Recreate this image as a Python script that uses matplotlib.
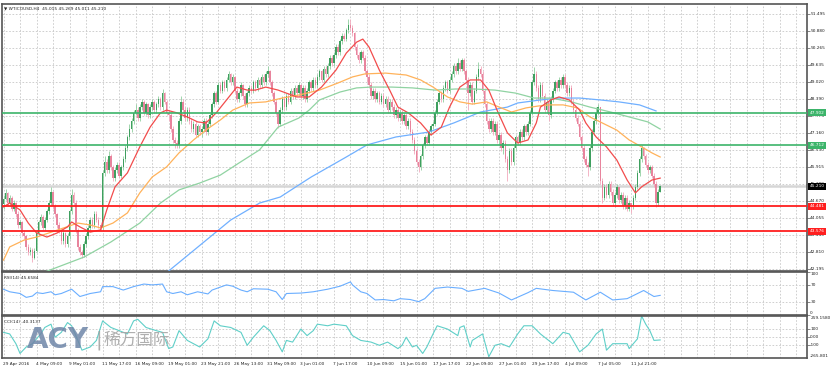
import numpy as np
import matplotlib
matplotlib.use("Agg")
import matplotlib.pyplot as plt
from matplotlib import transforms, font_manager

# ---- data (H4 bars, 29 Apr 2016 -> 13 Jul 2016) ----
first_open = 44.55
closes = [
    44.75, 44.95, 44.6, 44.8, 44.4, 44.6, 44.2, 43.8, 43.9, 43.5, 43.4, 43.0, 42.8, 42.9, 42.6, 42.85,
    43.5, 43.9, 44.1, 43.7, 44.0, 44.3, 44.6, 45.0, 44.5, 44.2, 43.8, 43.6, 43.2, 43.5, 43.1, 43.4,
    44.3, 44.9, 44.6, 43.6, 43.0, 42.8, 42.7, 43.1, 43.4, 43.7, 44.0, 43.8, 44.2, 44.0, 43.8, 43.7,
    45.7, 46.1, 45.8, 46.3, 45.9, 45.5, 45.8, 46.0, 45.6, 45.9, 46.2, 46.6, 47.0, 47.3, 47.6, 47.9,
    48.0, 47.7, 48.1, 48.3, 47.9, 48.2, 47.8, 48.1, 48.3, 48.0, 48.2, 48.4, 48.1, 48.6, 48.3, 47.9,
    47.8, 47.3, 46.9, 46.8, 46.7, 47.6, 48.3, 48.0, 47.7, 48.0, 47.6, 47.3, 47.5, 47.1, 47.4, 47.2,
    47.3, 47.6, 47.2, 47.5, 47.8, 48.2, 48.6, 48.3, 48.9, 48.7, 49.0, 48.8, 49.1, 49.3, 49.0, 49.2,
    48.7, 48.4, 48.6, 48.9, 48.5, 48.2, 48.6, 48.8, 48.7, 49.0, 48.8, 49.1, 48.9, 49.2, 49.0, 49.3,
    49.4, 49.0, 48.6, 48.3, 47.9, 47.5, 48.0, 48.4, 48.1, 48.5, 48.3, 48.7, 48.5, 48.8, 48.6, 48.9,
    48.5, 48.8, 48.4, 48.7, 49.0, 48.8, 49.1, 48.9, 49.2, 49.4, 49.1, 49.5, 49.3, 49.6, 49.9, 49.7,
    50.0, 50.3, 50.1, 50.5, 50.7, 50.6, 50.9, 51.1, 51.0, 50.8, 50.3, 50.0, 49.8, 50.1, 49.9, 49.4,
    49.2, 48.9, 48.5, 48.7, 48.4, 48.6, 48.3, 48.5, 48.2, 48.4, 48.0, 48.3, 48.1, 47.8, 48.0, 47.7,
    47.9, 47.6, 47.8, 47.4, 47.6, 47.2, 46.9, 46.5, 46.1, 45.9, 46.3, 46.7, 47.0, 46.8, 47.2, 47.4,
    47.5, 47.9, 48.3, 48.6, 48.4, 48.8, 49.0, 48.7, 49.1, 49.3, 49.6, 49.4, 49.7, 49.5, 49.8, 49.4,
    49.1, 48.6, 48.9, 48.3, 48.7, 49.2, 49.5, 49.3, 48.7, 48.2, 47.6, 47.3, 47.6, 47.2, 47.5, 46.9,
    47.1, 46.6, 46.8, 46.2, 45.8, 46.5, 46.1, 46.6, 47.0, 46.8, 47.2, 47.0, 47.4, 47.2, 47.5, 47.9,
    49.0, 49.3, 48.8, 48.4, 48.9, 48.5, 48.0, 48.3, 47.8, 48.4, 48.7, 49.0, 48.8, 49.1, 48.9, 49.2,
    48.9, 48.6, 48.8, 48.3, 48.0, 47.7, 47.5, 47.0, 46.6, 46.2, 46.0, 45.9, 46.6, 47.2, 47.6, 47.9,
    48.1, 45.4, 44.8, 45.2, 44.9, 45.3, 45.0, 44.6, 44.9, 45.2, 44.7, 44.9, 44.5, 44.8, 44.4, 44.6,
    44.5, 44.8, 45.2, 45.7, 46.2, 46.6, 46.3, 46.0, 45.8, 45.9, 45.6, 45.3, 44.6, 45.015, 45.21,
]
highs = [
    44.9, 45.1, 45.0, 44.9, 44.85, 44.7, 44.65, 44.3, 44.0, 43.95, 43.6, 43.45, 43.1, 43.0, 42.95, 42.95,
    43.6, 44.0, 44.2, 44.15, 44.1, 44.4, 44.7, 45.2, 45.05, 44.55, 44.25, 43.9, 43.65, 43.6, 43.55, 43.5,
    44.4, 45.1, 45.0, 44.7, 43.7, 43.1, 42.9, 43.2, 43.5, 43.8, 44.1, 44.1, 44.3, 44.3, 44.1, 43.9,
    45.8, 46.3, 46.2, 46.5, 46.4, 46.0, 45.9, 46.1, 46.1, 46.0, 46.3, 46.7, 47.1, 47.5, 47.7, 48.0,
    48.2, 48.1, 48.2, 48.4, 48.35, 48.3, 48.25, 48.2, 48.4, 48.35, 48.3, 48.5, 48.45, 48.75, 48.65, 48.35,
    48.0, 47.9, 47.4, 47.0, 46.9, 47.7, 48.5, 48.4, 48.1, 48.1, 48.1, 47.7, 47.6, 47.6, 47.5, 47.5,
    47.4, 47.7, 47.7, 47.6, 47.9, 48.3, 48.7, 48.7, 49.0, 49.0, 49.1, 49.1, 49.2, 49.4, 49.35, 49.3,
    49.25, 48.8, 48.7, 49.0, 48.95, 48.6, 48.7, 48.9, 48.9, 49.1, 49.1, 49.2, 49.15, 49.3, 49.3, 49.4,
    49.6, 49.45, 49.1, 48.7, 48.4, 48.0, 48.1, 48.5, 48.5, 48.6, 48.6, 48.8, 48.8, 48.9, 48.9, 49.0,
    48.95, 48.9, 48.9, 48.8, 49.1, 49.1, 49.2, 49.2, 49.3, 49.5, 49.45, 49.6, 49.6, 49.7, 50.0, 50.0,
    50.1, 50.4, 50.4, 50.6, 50.8, 50.8, 51.0, 51.3, 51.3, 51.1, 50.85, 50.4, 50.1, 50.2, 50.2, 50.0,
    49.5, 49.3, 49.0, 48.8, 48.8, 48.7, 48.7, 48.6, 48.6, 48.5, 48.5, 48.4, 48.4, 48.2, 48.1, 48.1,
    48.0, 48.0, 47.9, 47.9, 47.7, 47.7, 47.3, 47.0, 46.6, 46.2, 46.4, 46.8, 47.1, 47.1, 47.3, 47.5,
    47.6, 48.0, 48.4, 48.7, 48.7, 48.9, 49.1, 49.1, 49.2, 49.4, 49.7, 49.7, 49.9, 49.8, 49.9, 49.9,
    49.5, 49.2, 49.0, 49.0, 48.8, 49.3, 49.75, 49.6, 49.4, 48.8, 48.3, 47.7, 47.7, 47.7, 47.6, 47.6,
    47.2, 47.2, 46.9, 46.9, 46.3, 46.6, 46.6, 46.7, 47.1, 47.1, 47.3, 47.3, 47.5, 47.5, 47.6, 48.0,
    49.1, 49.55, 49.4, 48.9, 49.0, 49.0, 48.6, 48.4, 48.4, 48.5, 48.8, 49.1, 49.1, 49.2, 49.2, 49.3,
    49.3, 49.0, 48.9, 48.9, 48.4, 48.1, 47.8, 47.6, 47.1, 46.7, 46.3, 46.1, 46.7, 47.3, 47.7, 48.1,
    48.2, 48.1, 45.5, 45.3, 45.3, 45.4, 45.4, 45.1, 45.0, 45.3, 45.2, 45.0, 45.0, 44.9, 44.9, 44.7,
    44.6, 44.9, 45.3, 45.8, 46.3, 46.72, 46.65, 46.4, 46.1, 46.0, 46.0, 45.7, 45.4, 45.1, 45.269,
]
lows = [
    44.4, 44.7, 44.5, 44.5, 44.3, 44.3, 44.1, 43.7, 43.7, 43.4, 43.3, 42.9, 42.7, 42.7, 42.45, 42.55,
    42.8, 43.4, 43.8, 43.6, 43.6, 43.9, 44.2, 44.5, 44.4, 44.1, 43.7, 43.5, 43.1, 43.1, 43.0, 43.0,
    43.3, 44.2, 44.5, 43.5, 42.9, 42.7, 42.6, 42.65, 43.0, 43.3, 43.6, 43.7, 43.7, 43.9, 43.7, 43.6,
    43.6, 45.6, 45.7, 45.7, 45.8, 45.4, 45.4, 45.7, 45.5, 45.5, 45.8, 46.1, 46.5, 46.9, 47.2, 47.5,
    47.8, 47.6, 47.6, 48.0, 47.8, 47.8, 47.7, 47.7, 48.0, 47.9, 47.9, 48.1, 48.0, 48.0, 48.2, 47.8,
    47.6, 47.2, 46.8, 46.6, 46.6, 46.6, 47.5, 47.9, 47.6, 47.6, 47.5, 47.2, 47.2, 47.0, 47.0, 47.1,
    47.0, 47.2, 47.1, 47.1, 47.4, 47.7, 48.1, 48.2, 48.2, 48.6, 48.6, 48.7, 48.7, 49.0, 48.9, 48.9,
    48.6, 48.3, 48.3, 48.5, 48.4, 48.1, 48.1, 48.5, 48.6, 48.6, 48.7, 48.7, 48.8, 48.8, 48.9, 48.9,
    49.2, 48.9, 48.5, 48.2, 47.8, 47.35, 47.4, 47.9, 48.0, 48.0, 48.2, 48.2, 48.4, 48.4, 48.5, 48.5,
    48.4, 48.4, 48.3, 48.3, 48.6, 48.7, 48.7, 48.8, 48.8, 49.1, 49.0, 49.0, 49.2, 49.2, 49.5, 49.6,
    49.6, 49.9, 50.0, 50.0, 50.4, 50.5, 50.5, 50.8, 50.9, 50.7, 50.2, 49.9, 49.7, 49.7, 49.8, 49.3,
    49.0, 48.8, 48.4, 48.4, 48.3, 48.3, 48.2, 48.2, 48.1, 48.1, 47.9, 47.9, 48.0, 47.7, 47.7, 47.6,
    47.6, 47.5, 47.5, 47.3, 47.3, 47.1, 46.8, 46.4, 46.0, 45.75, 45.8, 46.2, 46.6, 46.7, 46.7, 47.1,
    47.3, 47.4, 47.8, 48.2, 48.3, 48.3, 48.7, 48.6, 48.6, 49.0, 49.2, 49.3, 49.3, 49.4, 49.4, 49.3,
    49.0, 48.0, 48.5, 48.2, 48.2, 48.6, 49.1, 49.2, 48.6, 48.1, 47.5, 47.2, 47.2, 47.1, 47.1, 46.8,
    46.7, 46.5, 46.4, 46.1, 45.4, 45.7, 46.0, 46.0, 46.5, 46.7, 46.7, 46.9, 46.9, 47.1, 47.1, 47.4,
    47.8, 48.9, 48.7, 48.3, 48.3, 48.4, 47.9, 47.9, 47.6, 47.7, 48.3, 48.6, 48.7, 48.7, 48.8, 48.8,
    48.8, 48.5, 48.5, 48.2, 47.9, 47.6, 47.4, 46.9, 46.5, 46.1, 45.9, 45.6, 45.8, 46.5, 47.1, 47.5,
    47.8, 45.3, 44.6, 44.7, 44.8, 44.8, 44.9, 44.5, 44.5, 44.8, 44.6, 44.6, 44.4, 44.4, 44.3, 44.3,
    44.25, 44.4, 44.7, 45.1, 45.6, 46.1, 46.2, 45.9, 45.7, 45.7, 45.5, 45.2, 44.45, 44.5, 45.011,
]

# moving averages (bar index, price)
ma_red_idx = [0, 3, 8, 12, 16, 21, 26, 31, 33, 37, 42, 47, 50, 54, 60, 66, 71, 76, 79, 84,
              89, 94, 98, 103, 108, 113, 118, 122, 127, 133, 142, 148, 154, 161, 166, 171, 174, 177, 182, 187,
              191, 196, 202, 207, 212, 216, 221, 226, 231, 235, 239, 244, 249, 254, 258, 260, 265, 269, 274, 279,
              282, 287, 292, 297, 302, 306, 309, 314, 318]
ma_red_val = [44.46, 44.60, 44.35, 43.87, 43.51, 43.36, 43.51, 43.73, 43.91, 43.73, 43.54, 43.62, 44.35, 45.19,
              45.70, 46.65, 47.37, 47.89, 47.99, 47.89, 47.74, 47.56, 47.52, 47.89, 48.36, 48.83, 48.72, 48.72,
              48.83, 48.72, 48.47, 48.47, 48.83, 49.45, 50.07, 50.47, 50.58, 50.29, 49.45, 48.72, 48.10, 47.89,
              47.52, 47.08, 47.37, 48.10, 48.83, 49.09, 49.09, 48.72, 47.99, 47.16, 46.79, 46.90, 47.52, 48.10,
              48.36, 48.47, 48.36, 47.99, 47.52, 47.01, 46.65, 46.17, 45.44, 44.97, 45.19, 45.44, 45.51]
ma_orange_idx = [0, 3, 10, 16, 22, 29, 36, 42, 47, 53, 60, 66, 72, 79, 85, 92, 98, 105, 111, 119,
                 127, 135, 143, 153, 162, 169, 175, 185, 195, 202, 208, 215, 221, 227, 234, 240, 246, 253, 259, 264,
                 271, 278, 284, 290, 297, 303, 309, 314, 318]
ma_orange_val = [42.52, 43.00, 43.25, 43.36, 43.51, 43.69, 43.87, 43.80, 43.69, 43.87, 44.24, 44.97, 45.55,
                 45.92, 46.43, 46.90, 47.26, 47.63, 47.99, 48.25, 48.29, 48.43, 48.54, 48.72, 48.98, 49.20,
                 49.31, 49.34, 49.27, 49.09, 48.83, 48.47, 48.29, 48.21, 48.29, 48.10, 47.92, 48.07, 48.14,
                 48.18, 48.18, 48.07, 47.74, 47.52, 47.26, 46.90, 46.65, 46.43, 46.28]
ma_green_idx = [17, 39, 52, 66, 76, 85, 95, 105, 114, 124, 133, 143, 148, 153, 163, 171, 178, 188, 198, 209,
                219, 228, 238, 248, 257, 265, 275, 284, 294, 303, 312, 318]
ma_green_val = [42.00, 42.63, 43.18, 43.87, 44.60, 45.08, 45.33, 45.62, 46.06, 46.54, 47.37, 47.70, 47.99,
                48.36, 48.65, 48.80, 48.83, 48.83, 48.80, 48.72, 48.76, 48.76, 48.72, 48.61, 48.43, 48.43,
                48.29, 48.10, 47.92, 47.74, 47.56, 47.30]
ma_blue_idx = [78, 94, 110, 124, 134, 143, 149, 166, 176, 190, 206, 218, 231, 244, 249, 260, 269, 279,
               289, 298, 308, 316]
ma_blue_val = [42.00, 42.99, 43.98, 44.60, 44.82, 45.26, 45.55, 46.28, 46.72, 47.01, 47.19, 47.52, 47.92,
               48.10, 48.25, 48.36, 48.43, 48.43, 48.36, 48.29, 48.18, 47.96]

rsi_idx = [0, 3, 8, 11, 14, 16, 19, 23, 25, 28, 33, 37, 42, 47, 48, 53, 58, 63, 68, 72, 77, 79, 82, 86,
           89, 94, 99, 101, 108, 111, 115, 118, 121, 128, 132, 135, 137, 144, 150, 157, 163, 168, 169, 173,
           176, 180, 184, 189, 192, 197, 201, 204, 209, 215, 222, 225, 233, 240, 246, 254, 258, 266, 276,
           282, 289, 295, 302, 310, 315, 318]
rsi_val = [60, 54, 50, 41, 44, 52, 50, 54, 47, 50, 60, 43, 50, 54, 66, 66, 58, 66, 72, 70, 72, 54, 50, 54,
           47, 54, 49, 58, 70, 67, 58, 54, 61, 60, 54, 36, 50, 51, 54, 60, 67, 77, 70, 54,
           50, 35, 36, 33, 38, 36, 31, 38, 62, 65, 62, 55, 62, 51, 35, 52, 62, 57, 53,
           35, 53, 35, 38, 57, 43, 45.66]

cci_idx = [0, 3, 6, 8, 11, 14, 18, 20, 23, 25, 28, 31, 33, 36, 38, 42, 45, 48, 52, 56, 60, 63, 65, 69,
           74, 77, 80, 82, 85, 89, 92, 95, 99, 102, 105, 110, 115, 118, 121, 126, 129, 132, 135, 137,
           140, 144, 147, 150, 152, 157, 160, 166, 169, 173, 178, 182, 186, 191, 193, 195, 198, 200, 203,
           205, 208, 210, 215, 220, 221, 223, 226, 227, 232, 235, 238, 241, 245, 249, 252, 256, 260, 266,
           271, 274, 279, 283, 287, 290, 292, 295, 302, 303, 307, 309, 311, 313, 315, 318]
cci_val = [55, 35, -87, -209, -128, -87, 35, 116, 157, -6, 55, 177, 137, -46, -168, -128, -46, 198, 116, 76,
           35, 198, 218, 116, 76, 55, -148, -128, 76, -46, -87, -128, -26, 198, 137, 116, 55, -107, -6,
           137, 76, -46, -189, -46, -67, 96, 14, 76, 157, 137, 157, 137, 14, -46, -67, -107, -67, -148,
           -107, -6, -128, -107, -209, -128, 35, 137, 96, 14, 116, 137, -128, -46, 35, -250, -107, -87,
           -128, 35, 137, 137, 35, -87, 55, 35, -189, -107, 35, 96, -168, -87, -87, -148, -26, 259, 157,
           76, -46, -40.31]

date_labels = ["29 Apr 2016", "4 May 09:00", "9 May 01:00", "11 May 17:00", "16 May 09:00",
               "19 May 01:00", "23 May 21:00", "26 May 13:00", "31 May 09:00", "3 Jun 01:00",
               "7 Jun 17:00", "10 Jun 09:00", "15 Jun 01:00", "17 Jun 17:00", "22 Jun 09:00",
               "27 Jun 01:00", "29 Jun 17:00", "4 Jul 09:00", "7 Jul 05:00", "11 Jul 21:00"]
price_ticks = [51.495, 50.880, 50.265, 49.635, 49.020, 48.390, 47.775, 47.160, 46.530, 45.915,
               45.300, 44.670, 44.055, 43.440, 42.810, 42.195]
green_levels = [47.902, 46.712]
red_levels = [44.481, 43.576]
last_price = 45.210

# ---- fonts: a narrow face if the box has one ----
installed = {f.name for f in font_manager.fontManager.ttflist}
if "Liberation Sans Narrow" in installed:
    FAM, FS = "Liberation Sans Narrow", 4.4
else:
    FAM, FS = "DejaVu Sans", 3.1
plt.rcParams["font.family"] = [FAM, "DejaVu Sans"]

# ---- layout ----
W, H = 831, 370
fig = plt.figure(figsize=(W / 100, H / 100), dpi=100)
fig.patch.set_facecolor("white")


def px_axes(left, top, right, bottom):
    return fig.add_axes([left / W, 1 - bottom / H, (right - left) / W, (bottom - top) / H])


ax = px_axes(2, 4, 807, 271)
ax_rsi = px_axes(2, 272, 807, 315)
ax_cci = px_axes(2, 316, 807, 358)

xlim = (-0.73, 389.1)
grid_kw = dict(color="#c8c8c8", lw=0.6, ls=(0, (2, 2)), zorder=0)
TXT = "#222222"
for a in (ax, ax_rsi, ax_cci):
    a.set_xlim(*xlim)
    a.set_xticks([])
    for s in a.spines.values():
        s.set_color("#555555")
        s.set_linewidth(1.2)
    for k in range(0, 390, 8):
        a.axvline(k, **grid_kw)
    a.yaxis.tick_right()
    a.tick_params(axis="y", length=2, width=0.5, color="#555555", labelright=False, labelleft=False)

# main price window
ax.set_ylim(42.122, 51.860)
ax.set_yticks(price_ticks)
for p in price_ticks:
    ax.axhline(p, **grid_kw)
ax.axhline(last_price, color="#d6d6d6", lw=1.8, zorder=1)

closes = np.array(closes)
highs = np.array(highs)
lows = np.array(lows)
opens = np.r_[first_open, closes[:-1]]
bx = np.arange(len(closes))
up = closes >= opens
dn = ~up
ax.vlines(bx[up], lows[up], highs[up], color="#8fcf9f", lw=0.6, zorder=2)
ax.vlines(bx[dn], lows[dn], highs[dn], color="#f2aabd", lw=0.6, zorder=2)
ax.bar(bx[up], closes[up] - opens[up], bottom=opens[up], width=0.75, color="#3f9f5f", lw=0, zorder=3)
ax.bar(bx[dn], closes[dn] - opens[dn], bottom=opens[dn], width=0.75, color="#e8849d", lw=0, zorder=3)

ax.plot(ma_blue_idx, ma_blue_val, color="#70b0ff", lw=0.9, zorder=4)
ax.plot(ma_green_idx, ma_green_val, color="#90d3a2", lw=0.9, zorder=4)
ax.plot(ma_orange_idx, ma_orange_val, color="#ffb25a", lw=0.9, zorder=4)
ax.plot(ma_red_idx, ma_red_val, color="#f24c4c", lw=0.9, zorder=5)

for lv in green_levels:
    ax.axhline(lv, color="#3cb46a", lw=1.2, zorder=6)
for lv in red_levels:
    ax.axhline(lv, color="#ff1f1f", lw=1.3, zorder=6)

tr = transforms.blended_transform_factory(ax.transAxes, ax.transData)
for p in price_ticks:
    ax.text(1.004, p, f"{p:.3f}", transform=tr, fontsize=FS, va="center", ha="left", color=TXT)
tags = [(green_levels[0], "#3cb46a"), (green_levels[1], "#3cb46a"), (last_price, "#000000"),
        (red_levels[0], "#ff1f1f"), (red_levels[1], "#ff1f1f")]
for p, c in tags:
    ax.text(1.003, p, f"{p:.3f}", transform=tr, fontsize=FS, va="center", ha="left", color="white",
            bbox=dict(boxstyle="square,pad=0.35", fc=c, ec=c, lw=0), zorder=10, clip_on=False)

fig.text(4 / W, 1 - 9 / H, "\u25bc WTICOUSD,H4  45.015 45.269 45.011 45.210", fontsize=FS,
         va="center", ha="left", color=TXT)

# RSI window
ax_rsi.set_ylim(0, 100)
ax_rsi.set_yticks([100, 70, 30, 0])
for lv in (70, 30):
    ax_rsi.axhline(lv, **grid_kw)
ax_rsi.plot(rsi_idx, rsi_val, color="#6aaeff", lw=0.8)
tr_r = transforms.blended_transform_factory(ax_rsi.transAxes, ax_rsi.transData)
for v, va in ((100, "top"), (70, "center"), (30, "center"), (0, "bottom")):
    ax_rsi.text(1.004, v, str(v), transform=tr_r, fontsize=FS, va=va, ha="left", color=TXT)
ax_rsi.text(0.002, 0.86, "RSI(14) 45.6584", transform=ax_rsi.transAxes, fontsize=FS,
            va="center", ha="left", color=TXT)

# CCI window
ax_cci.set_ylim(-265.801, 259.158)
ax_cci.set_yticks([100, 0, -100])
for lv in (100, 0, -100):
    ax_cci.axhline(lv, **grid_kw)
ax_cci.plot(cci_idx, cci_val, color="#5fcfc8", lw=0.8)
tr_c = transforms.blended_transform_factory(ax_cci.transAxes, ax_cci.transData)
for v, s, va in ((259.158, "259.1580", "top"), (100, "100", "center"), (0, "0.00", "center"),
                 (-100, "-100", "center"), (-265.801, "-265.801", "bottom")):
    ax_cci.text(1.004, v, s, transform=tr_c, fontsize=FS, va=va, ha="left", color=TXT)
ax_cci.text(0.002, 0.86, "CCI(14) -40.3137", transform=ax_cci.transAxes, fontsize=FS,
            va="center", ha="left", color=TXT)

# date axis
tr_d = transforms.blended_transform_factory(ax_cci.transData, ax_cci.transAxes)
for k, lab in enumerate(date_labels):
    ax_cci.text(k * 16 - 0.2, -0.15, lab, transform=tr_d, fontsize=FS, va="center", ha="left",
                color=TXT, clip_on=False)

# watermark
fig.text(27 / W, 1 - 340 / H, "ACY", fontsize=20, fontweight="bold", color="#6f86a8", alpha=0.85,
         va="center", ha="left", family="DejaVu Sans")
fig.text(96 / W, 1 - 340 / H, "|", fontsize=14, color="#9a9a9a", alpha=0.8, va="center", ha="left",
         family="DejaVu Sans")
fig.text(104 / W, 1 - 340 / H, "稀万国际", fontsize=12, color="#a6a6a6", alpha=0.9,
         va="center", ha="left", family=["Noto Sans CJK SC", "DejaVu Sans"])

fig.savefig("out.png", dpi=100, facecolor="white")
